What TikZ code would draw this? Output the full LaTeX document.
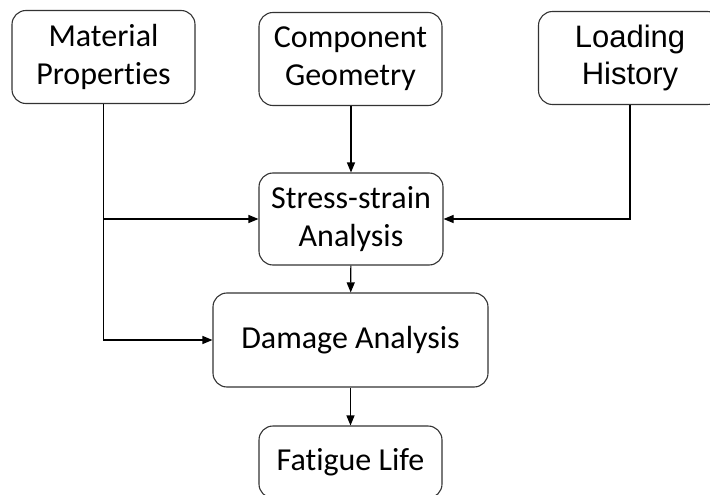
\documentclass[tikz,border=0pt]{standalone}
\usepackage{fontspec}
\setmainfont{Carlito}[Ligatures=NoCommon]
\newfontfamily\arialfont{Liberation Sans}
\usetikzlibrary{arrows.meta}

\begin{document}
\begin{tikzpicture}[x=1pt,y=-1pt,
  box/.style={draw=black!80, line width=1.1pt, rounded corners=14pt, align=center,
    inner sep=0pt, minimum width=183pt, minimum height=93pt,
    font=\fontsize{32}{38}\selectfont},
  arr/.style={-{Triangle[length=10pt,width=8pt]}, line width=1.1pt}]
  \clip (0,0) rectangle (710,495);
  % inputs
  \node[box] (mat) at (103.5,57) {Material\\Properties};
  \node[box] (geom) at (350.5,59) {Component\\Geometry};
  \node[box, font=\arialfont\fontsize{31}{37}\selectfont] (load) at (630,58) {Loading\\History};
  % analysis steps
  \node[box, minimum width=184pt, minimum height=92pt] (stress) at (351,219) {Stress-strain\\Analysis};
  \node[box, minimum width=275pt, minimum height=94pt] (damage) at (350.5,340) {Damage Analysis};
  \node[box, minimum height=72pt] (life) at (350.5,462) {Fatigue Life};
  % arrows
  \coordinate (split) at (mat.south |- stress.west);
  \draw[line width=1.1pt] (mat.south) -- (split);
  \draw[arr] (split) -- (stress.west);
  \draw[arr] (split) |- (damage.west);
  \draw[arr] (geom.south -| stress.north) -- (stress.north);
  \draw[arr] (load.south) |- (stress.east);
  \draw[arr] (stress) -- (damage);
  \draw[arr] (damage) -- (life);
\end{tikzpicture}
\end{document}
